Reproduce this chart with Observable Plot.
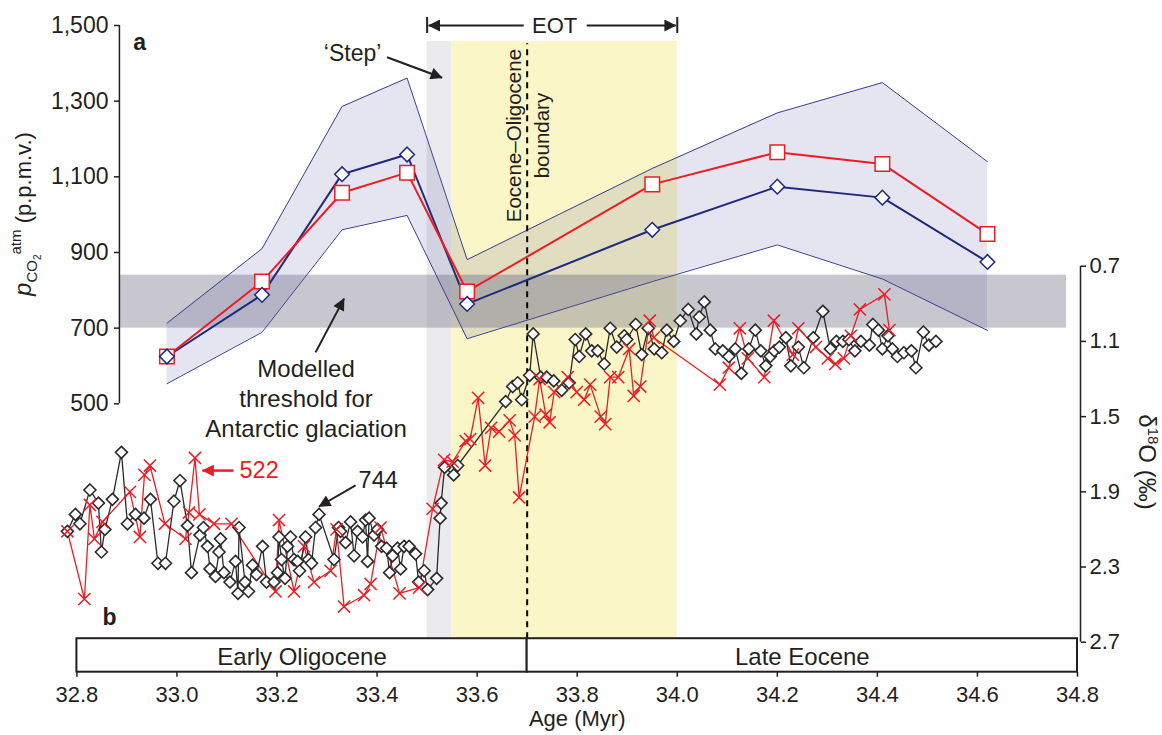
<!DOCTYPE html>
<html><head><meta charset="utf-8">
<script src="https://cdn.jsdelivr.net/npm/d3@7"></script>
<script src="https://cdn.jsdelivr.net/npm/@observablehq/plot@0.6"></script>
<style>
body{margin:0;background:#fff;}
#chart svg{display:block;}
</style></head><body><div id="chart"></div>
<script>
// ---- Panel a: atmospheric CO2 (p.p.m.v.) ----
const co2Age   = [32.98, 33.17, 33.33, 33.46, 33.58, 33.95, 34.20, 34.41, 34.62];
const co2Blue  = [625, 788, 1107, 1159, 764, 960, 1074, 1045, 875];
const co2Red   = [625, 823, 1058, 1111, 797, 1080, 1165, 1134, 949];
const co2Upper = [713, 910, 1286, 1361, 881, 1122, 1269, 1349, 1140];
const co2Lower = [553, 689, 960, 998, 672, 823, 920, 830, 694];
const thresholdLow = 700, thresholdHigh = 840;

// ---- Panel b: benthic d18O (per mil) ----
const site744Age = [32.781,32.797,32.806,32.826,32.843,32.849,32.856,32.871,32.889,32.901,32.917,32.934,32.947,32.962,32.977,32.994,33.006,33.021,33.029,33.046,33.053,33.061,33.066,33.077,33.084,33.087,33.094,33.106,33.117,33.122,33.124,33.136,33.143,33.151,33.159,33.171,33.179,33.194,33.201,33.204,33.209,33.216,33.221,33.227,33.234,33.241,33.245,33.257,33.263,33.269,33.277,33.284,33.314,33.323,33.327,33.337,33.347,33.354,33.361,33.371,33.377,33.381,33.384,33.394,33.401,33.409,33.419,33.425,33.431,33.441,33.447,33.454,33.464,33.477,33.483,33.494,33.501,33.519,33.526,33.528,33.535,33.553,33.561,33.657,33.671,33.681,33.689,33.705,33.712,33.727,33.739,33.753,33.769,33.784,33.796,33.804,33.817,33.829,33.841,33.854,33.866,33.879,33.894,33.899,33.917,33.929,33.942,33.954,33.969,33.979,33.993,34.006,34.022,34.038,34.044,34.054,34.066,34.076,34.091,34.103,34.116,34.128,34.143,34.156,34.167,34.177,34.186,34.194,34.204,34.217,34.227,34.242,34.253,34.272,34.291,34.306,34.318,34.331,34.343,34.355,34.367,34.384,34.391,34.402,34.410,34.421,34.430,34.440,34.453,34.468,34.477,34.492,34.503,34.517];
const site744D18O = [2.11,2.02,2.07,1.89,1.96,2.22,2.10,1.94,1.69,2.07,2.02,2.04,1.94,2.28,2.28,1.95,1.84,2.08,2.33,2.13,2.09,2.19,2.31,2.35,2.22,2.15,2.33,2.38,2.27,2.44,2.09,2.38,2.43,2.29,2.34,2.19,2.38,2.38,2.33,2.14,2.26,2.36,2.19,2.14,2.26,2.27,2.32,2.14,2.26,2.28,2.09,2.02,2.26,2.09,2.11,2.17,2.06,2.24,2.11,2.14,2.05,2.27,2.04,2.13,2.10,2.19,2.20,2.33,2.24,2.20,2.31,2.19,2.19,2.23,2.38,2.32,2.42,2.36,2.04,1.96,1.77,1.81,1.76,1.42,1.34,1.32,1.41,1.28,1.06,1.29,1.29,1.31,1.36,1.32,1.09,1.18,1.06,1.15,1.15,1.22,1.03,1.13,1.07,1.09,1.01,1.17,1.03,1.14,1.16,1.04,1.10,0.99,0.93,1.06,0.97,0.89,1.04,1.14,1.15,1.18,1.14,1.27,1.14,1.04,1.15,1.23,1.18,1.15,1.13,1.08,1.23,1.13,1.24,1.08,0.94,1.14,1.10,1.10,1.09,1.15,1.10,1.12,1.01,1.04,1.14,1.07,1.14,1.18,1.16,1.15,1.24,1.05,1.12,1.10];
const site522Age = [32.781,32.815,32.826,32.835,32.851,32.906,32.926,32.935,32.946,32.976,33.017,33.024,33.036,33.045,33.074,33.109,33.197,33.204,33.234,33.254,33.274,33.307,33.319,33.334,33.374,33.387,33.407,33.445,33.484,33.511,33.534,33.551,33.577,33.586,33.602,33.616,33.628,33.644,33.665,33.675,33.684,33.715,33.725,33.737,33.745,33.754,33.781,33.799,33.814,33.826,33.847,33.856,33.866,33.882,33.904,33.913,33.926,33.945,33.953,34.085,34.103,34.125,34.141,34.174,34.193,34.231,34.242,34.277,34.301,34.316,34.333,34.347,34.365,34.414,34.424];
const site522D18O = [2.11,2.47,1.97,2.15,2.06,1.90,2.14,1.81,1.76,2.07,2.15,2.01,1.72,2.02,2.07,2.07,2.43,2.05,2.43,2.19,2.38,2.32,2.10,2.51,2.45,2.39,2.09,2.44,2.41,1.99,1.73,1.74,1.63,1.62,1.40,1.76,1.56,1.58,1.52,1.60,1.93,1.50,1.30,1.49,1.53,1.37,1.29,1.37,1.41,1.33,1.50,1.54,1.29,1.29,1.14,1.39,1.34,0.99,1.08,1.33,1.24,1.03,1.19,1.29,0.99,1.17,1.03,1.13,1.19,1.22,1.19,1.07,0.93,0.85,1.04];

// ---- Axes / periods ----
const ageTicks  = [32.8, 33.0, 33.2, 33.4, 33.6, 33.8, 34.0, 34.2, 34.4, 34.6, 34.8];
const co2Ticks  = [500, 700, 900, 1100, 1300, 1500];
const d18oTicks = [0.7, 1.1, 1.5, 1.9, 2.3, 2.7];
const stepBand = {from: 33.50, to: 33.55};
const eotBand  = {from: 33.55, to: 34.00};
const eoBoundary = 33.7;
const periods = [{name: "Early Oligocene", from: 32.8, to: 33.7}, {name: "Late Eocene", from: 33.7, to: 34.8}];

// shared vertical scale is in CO2 units; d18O (reversed) is mapped onto it
const d2y = d => 863.7 - (d - 0.7) * 497;
const y2d = v => 0.7 + (863.7 - v) / 497;
const yDomain = [-209.5, 1500];
const bandTop = 1458, boxTop = -121, boxBottom = -209.5;

const env = co2Age.map((a, i) => ({age: a, lo: co2Lower[i], hi: co2Upper[i]}));
const blue = co2Age.map((a, i) => ({age: a, v: co2Blue[i]}));
const red  = co2Age.map((a, i) => ({age: a, v: co2Red[i]}));
const s744 = site744Age.map((a, i) => ({age: a, y: d2y(site744D18O[i])}));
const s522 = site522Age.map((a, i) => ({age: a, y: d2y(site522D18O[i])}));

const INK = "#231f20", RED = "#ed1c24", NAVY = "#1f2a7c";
const FONT = "'Liberation Sans', Arial, Helvetica, sans-serif";

const blackArrows = [
  {x1: 33.420, y1: 1416, x2: 33.530, y2: 1362},           // Step
  {x1: 33.277, y1: 636,  x2: 33.334, y2: 778},            // threshold
  {x1: 33.357, y1: d2y(1.866), x2: 33.284, y2: d2y(1.978)}, // 744
  {x1: 33.693, y1: 1500, x2: 33.503, y2: 1500},           // EOT left
  {x1: 33.819, y1: 1500, x2: 33.997, y2: 1500}            // EOT right
];
const redArrows = [{x1: 33.113, y1: d2y(1.787), x2: 33.051, y2: d2y(1.787)}];

const chart = Plot.plot({
  width: 1162, height: 735,
  marginLeft: 76.4, marginRight: 85, marginTop: 25, marginBottom: 63.3,
  style: {fontFamily: FONT, fontSize: "23px", color: INK, background: "#fff"},
  x: {domain: [32.8, 34.8]},
  y: {domain: yDomain},
  marks: [
    Plot.rect([stepBand], {x1: "from", x2: "to", y1: boxTop, y2: bandTop, fill: "#ebebee"}),
    Plot.rect([eotBand], {x1: "from", x2: "to", y1: boxTop, y2: bandTop, fill: "#fbf6c8"}),
    Plot.rect([{}], {x1: 32.885, x2: 34.778, y1: thresholdLow, y2: thresholdHigh, fill: "#7f7d90", fillOpacity: 0.43}),
    Plot.areaY(env, {x: "age", y1: "lo", y2: "hi", fill: "#2e3488", fillOpacity: 0.13}),
    Plot.line(env, {x: "age", y: "hi", stroke: "#3d4290", strokeWidth: 1}),
    Plot.line(env, {x: "age", y: "lo", stroke: "#3d4290", strokeWidth: 1}),
    Plot.ruleX([eoBoundary], {y1: boxTop, y2: 1452, stroke: "#000", strokeWidth: 2, strokeDasharray: "6,5"}),
    // panel b
    Plot.line(s522, {x: "age", y: "y", stroke: RED, strokeWidth: 1.3}),
    Plot.line(s744, {x: "age", y: "y", stroke: "#2a2a2a", strokeWidth: 1.3}),
    Plot.dot(s744, {x: "age", y: "y", symbol: "diamond2", r: 5.4, fill: "#fff", stroke: "#2a2a2a", strokeWidth: 1.6}),
    Plot.dot(s522, {x: "age", y: "y", symbol: "times", r: 5.6, stroke: RED, strokeWidth: 1.5}),
    // panel a
    Plot.line(blue, {x: "age", y: "v", stroke: NAVY, strokeWidth: 2}),
    Plot.line(red, {x: "age", y: "v", stroke: RED, strokeWidth: 2}),
    Plot.dot(red, {x: "age", y: "v", symbol: "square", r: 8.2, fill: "#fff", stroke: RED, strokeWidth: 1.5}),
    Plot.dot(blue, {x: "age", y: "v", symbol: "diamond2", r: 6.6, fill: "#fff", stroke: NAVY, strokeWidth: 1.5}),
    // period box
    Plot.rect(periods, {x1: "from", x2: "to", y1: boxBottom, y2: boxTop, fill: "#fff", stroke: INK, strokeWidth: 2}),
    Plot.text(periods, {x: d => (d.from + d.to) / 2, y: -169.8, text: "name", fontSize: 24, fill: INK}),
    // axis lines
    Plot.ruleX([32.885], {y1: 500, y2: 1500, stroke: INK, strokeWidth: 1.5}),
    Plot.ruleX([34.806], {y1: d2y(2.7), y2: d2y(0.7), stroke: INK, strokeWidth: 1.5}),
    Plot.axisY(co2Ticks, {anchor: "left", dx: 42.6, tickSize: 5, tickPadding: 6, tickFormat: d3.format(","), fontSize: 23, label: null, stroke: INK, strokeWidth: 1.5}),
    Plot.axisY(d18oTicks.map(d2y), {anchor: "right", dx: 3, tickSize: 5, tickPadding: 4, tickFormat: v => d3.format(".1f")(y2d(v)), fontSize: 22, label: null, stroke: INK, strokeWidth: 1.5}),
    Plot.axisX(ageTicks, {anchor: "bottom", tickSize: 5, tickPadding: 9, tickFormat: d3.format(".1f"), fontSize: 22, label: null, stroke: INK, strokeWidth: 1.5}),
    Plot.text(["Age (Myr)"], {frameAnchor: "bottom", dy: 53.3, fontSize: 22, fill: INK}),
    // EOT bracket
    Plot.ruleX([eotBand.to, stepBand.from], {y1: 1479, y2: 1521, stroke: INK, strokeWidth: 2}),
    Plot.text(["EOT"], {x: 33.755, y: 1500, fontSize: 22, fill: INK}),
    // annotations
    Plot.link(blackArrows, {x1: "x1", y1: "y1", x2: "x2", y2: "y2", stroke: INK, strokeWidth: 2}),
    Plot.link(redArrows, {x1: "x1", y1: "y1", x2: "x2", y2: "y2", stroke: RED, strokeWidth: 2.5}),
    Plot.text(["a"], {x: 32.9255, y: 1456, fontSize: 23, fontWeight: "bold", fill: INK}),
    Plot.text(["b"], {x: 32.865, y: d2y(2.57), fontSize: 23, fontWeight: "bold", fill: INK}),
    Plot.text(["\u2018Step\u2019"], {x: 33.351, y: 1426, fontSize: 23, fill: INK}),
    Plot.text(["Modelled\nthreshold for\nAntarctic glaciation"], {x: 33.258, y: 517, fontSize: 24, lineHeight: 1.25, fill: INK}),
    Plot.text(["Eocene\u2013Oligocene\nboundary"], {x: 33.697, y: 1209, rotate: -90, fontSize: 20.5, lineHeight: 1.37, fill: INK}),
    Plot.text(["522"], {x: 33.125, y: d2y(1.787), textAnchor: "start", fontSize: 23.5, fill: RED}),
    Plot.text(["744"], {x: 33.363, y: d2y(1.84), textAnchor: "start", fontSize: 23.5, fill: INK})
  ]
});
document.getElementById("chart").appendChild(chart);

// filled arrowheads
const svg = d3.select(chart);
const defs = svg.append("defs");
function marker(id, color, w, h) {
  defs.append("marker").attr("id", id).attr("viewBox", "0 0 10 10").attr("refX", 9.5).attr("refY", 5)
    .attr("markerUnits", "userSpaceOnUse").attr("markerWidth", w).attr("markerHeight", h).attr("orient", "auto")
    .append("path").attr("d", "M0,0L10,5L0,10Z").attr("fill", color);
}
marker("ahK", INK, 15, 12);
marker("ahR", RED, 15, 12);
const linkGroups = svg.selectAll('g[aria-label="link"]').nodes();
d3.select(linkGroups[0]).selectAll("path").attr("marker-end", "url(#ahK)");
d3.select(linkGroups[1]).selectAll("path").attr("marker-end", "url(#ahR)");

// axis titles with sub/superscripts
const lt = svg.append("text").attr("transform", "translate(31,214) rotate(-90)")
  .attr("text-anchor", "middle").attr("fill", INK).style("font-size", "22px").style("font-family", FONT);
lt.append("tspan").text("p").style("font-style", "italic").style("font-size", "24px");
lt.append("tspan").text("CO").attr("dy", 6).style("font-size", "15px");
lt.append("tspan").text("2").attr("dy", 4).style("font-size", "10px");
lt.append("tspan").text("atm").attr("dy", -20).style("font-size", "15px");
lt.append("tspan").text(" (p.p.m.v.)").attr("dy", 10);

const rt = svg.append("text").attr("transform", "translate(1139,462) rotate(90)")
  .attr("text-anchor", "middle").attr("fill", INK).style("font-size", "24px").style("font-family", FONT);
rt.append("tspan").text("\u03b4");
rt.append("tspan").text("18").attr("dy", -9).style("font-size", "15px");
rt.append("tspan").text("O (\u2030)").attr("dy", 9);
</script></body></html>
